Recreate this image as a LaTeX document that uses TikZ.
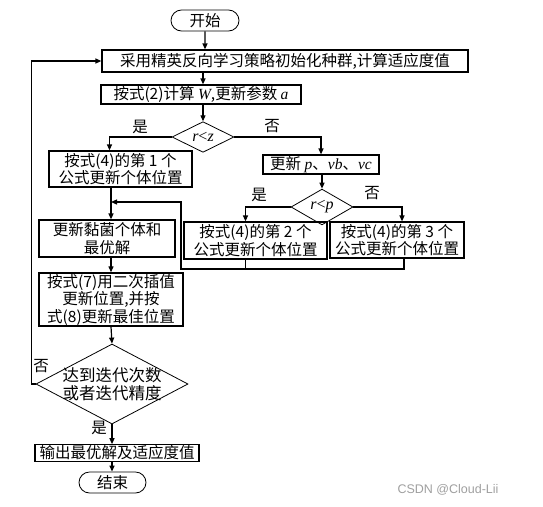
\documentclass[tikz,border=0pt]{standalone}
\usepackage{fontspec}
\usepackage{tikz}
\usetikzlibrary{arrows.meta,shapes.geometric,shapes.misc}
\newfontfamily\cjk{Noto Sans CJK SC}
\newfontfamily\latn{Liberation Serif}
\newfontfamily\wmfont{Liberation Sans}
\newcommand{\vr}[1]{{\latn\itshape #1}}

\tikzset{
    procbox/.style={draw, line width=1.2pt, inner sep=1pt, align=center, font=\cjk\fontsize{15.5}{17.5}\selectfont},
    termbox/.style={draw, line width=0.8pt, rounded rectangle, inner sep=1pt, font=\cjk\fontsize{15.5}{17.5}\selectfont},
    decbox/.style={draw, line width=0.8pt, diamond, inner sep=0pt, font=\latn\fontsize{16}{18}\selectfont},
    flow/.style={line width=1.2pt, -{Triangle[length=6pt,width=5pt]}},
    link/.style={line width=1.2pt},
    tag/.style={font=\cjk\fontsize{15.5}{17.5}\selectfont, inner sep=0pt}
}

\begin{document}
\begin{tikzpicture}[x=1pt, y=-1pt]
    \useasboundingbox (0,0) rectangle (543,506);

    % start and initialisation
    \node[termbox, minimum width=70pt, minimum height=21pt] (start) at (205, 20.5) {开始};
    \node[procbox, minimum width=366pt, minimum height=22pt] (init) at (285, 61) {采用精英反向学习策略初始化种群,计算适应度值};
    \node[procbox, minimum width=200pt, minimum height=19pt] (calcw) at (201, 94.5) {按式(2)计算 \vr{W},更新参数 \vr{a}};

    % first decision
    \node[decbox, minimum width=62pt, minimum height=28pt] (dz) at (203, 137) {\vr{r}<\vr{z}};
    \node[procbox, minimum width=143pt, minimum height=36pt] (pos1) at (120.5, 169) {按式(4)的第 1 个\\公式更新个体位置};
    \node[procbox, minimum width=116pt, minimum height=19pt] (updp) at (321, 164.5) {更新 \vr{p}、\vr{vb}、\vr{vc}};

    % second decision
    \node[decbox, minimum width=62pt, minimum height=29pt] (dp) at (322, 207) {\vr{r}<\vr{p}};
    \node[procbox, minimum width=143pt, minimum height=37pt] (pos2) at (255.5, 240.5) {按式(4)的第 2 个\\公式更新个体位置};
    \node[procbox, minimum width=134pt, minimum height=36pt] (pos3) at (397, 240) {按式(4)的第 3 个\\公式更新个体位置};

    % left column
    \node[procbox, minimum width=136pt, minimum height=37pt] (slime) at (107, 238.5) {更新黏菌个体和\\最优解};
    \node[procbox, minimum width=144pt, minimum height=53pt] (quad) at (111, 299.5) {按式(7)用二次插值\\更新位置,并按\\式(8)更新最佳位置};
    \node[decbox, minimum width=152pt, minimum height=80pt,
          label={[align=center, font=\cjk\fontsize{16.5}{18.5}\selectfont]center:达到迭代次数\\或者迭代精度}] (dend) at (112, 384) {};
    \node[procbox, minimum width=164pt, minimum height=15pt] (out) at (117, 453) {输出最优解及适应度值};
    \node[termbox, minimum width=69pt, minimum height=21pt] (stop) at (112.5, 482.5) {结束};

    % branch labels
    \node[tag] (yz) at (140, 127) {是};
    \node[tag] (nz) at (272, 126) {否};
    \node[tag] (yp) at (259, 195) {是};
    \node[tag] (np) at (372, 193) {否};
    \node[tag] (ne) at (41, 366) {否};
    \node[tag] (ye) at (99, 428) {是};

    % helper points
    \coordinate (lx) at (111, 0);
    \coordinate (mrg) at (181, 269);
    \coordinate (join) at (111, 202);

    % connectors
    \draw[flow] (start) -- (init.north -| start);
    \draw[flow] (init.south -| dz) -- (calcw.north -| dz);
    \draw[flow] (calcw.south -| dz) -- (dz.north);
    \draw[flow] (dz.west) -| ([xshift=-11pt]pos1.north);
    \draw[flow] (dz.east) -| (updp.north);
    \draw[flow] (updp.south -| dp) -- (dp.north);
    \draw[flow] (dp.west) -| ([xshift=-10pt]pos2.north);
    \draw[flow] (dp.east) -| ([xshift=5pt]pos3.north);
    \draw[flow] (pos1.south -| lx) -- (slime.north -| lx);
    \draw[link] ([xshift=-10pt]pos2.south) -- ([xshift=-10pt]pos2.south |- mrg);
    \draw[flow] ([xshift=7pt]pos3.south) |- (mrg) |- (join);
    \draw[flow] (slime.south -| lx) -- (quad.north -| lx);
    \draw[flow] (quad.south -| lx) -- (dend.north);
    \draw[flow] (dend.west) -- ++(-4,0) |- (init.west);
    \draw[flow] (dend.south) -- (out.north -| dend);
    \draw[flow] (out.south -| dend) -- (stop.north -| dend);

    % watermark
    \node[font=\wmfont\fontsize{12.5}{14}\selectfont, text=gray!75, inner sep=0pt] (mark) at (448, 490) {CSDN @Cloud-Lii};
\end{tikzpicture}
\end{document}
